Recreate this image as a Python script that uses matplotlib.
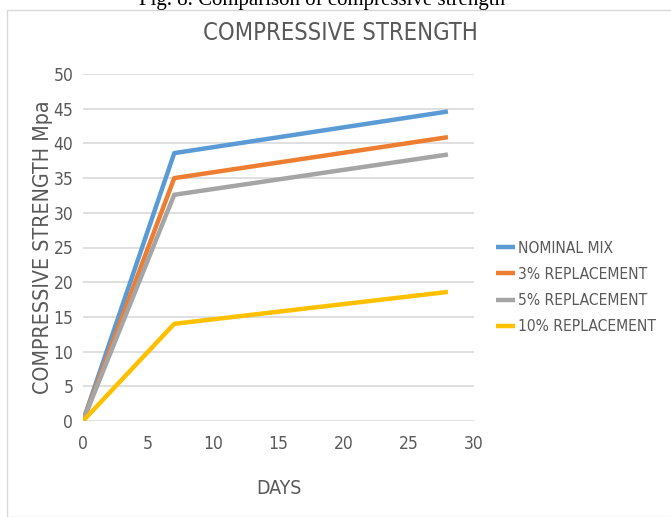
import matplotlib.pyplot as plt
from matplotlib.patches import Rectangle

# Curing age (days) and compressive strength (MPa) per mix
days = [0, 7, 28]
nominalMix = [0, 38.6, 44.6]
replace3 = [0, 35.0, 40.9]
replace5 = [0, 32.6, 38.4]
replace10 = [0, 14.0, 18.6]

seriesNames = ['NOMINAL MIX', '3% REPLACEMENT', '5% REPLACEMENT', '10% REPLACEMENT']
seriesColors = ['#5b9bd5', '#ed7d31', '#a5a5a5', '#ffc000']

textGray = '#595959'
font = {'family': ['DejaVu Sans'], 'stretch': 'condensed', 'weight': 'normal'}
plt.rcParams['font.family'] = ['DejaVu Sans']
plt.rcParams['font.stretch'] = 'condensed'

fig = plt.figure(figsize=(6.71, 5.17), dpi=100)

# Chart frame and the cut-off figure caption above it
fig.patches.append(Rectangle((7 / 671, 0), 1, 1 - 10 / 517, transform=fig.transFigure,
                             fill=False, edgecolor='#d9d9d9', linewidth=1))
fig.text(0.48, 1.0, 'Fig. 8. Comparison of compressive strength', ha='center', va='center',
         fontsize=15, family='Liberation Serif', stretch='normal', color='black')

ax = fig.add_axes([83 / 671, 1 - 421 / 517, (474 - 83) / 671, (421 - 74) / 517])

allSeries = [nominalMix, replace3, replace5, replace10]
for vals, name, col in zip(allSeries, seriesNames, seriesColors):
    ax.plot(days, vals, color=col, linewidth=3.2, label=name, solid_capstyle='butt')

ax.set_xlim(0, 30)
ax.set_ylim(0, 50)
ax.set_xticks(range(0, 31, 5))
ax.set_yticks(range(0, 51, 5))
ax.grid(axis='y', color='#d9d9d9', linewidth=1.2)
ax.set_axisbelow(True)
for side in ['top', 'right', 'left', 'bottom']:
    ax.spines[side].set_visible(False)
ax.tick_params(length=0, labelcolor=textGray)
ax.tick_params(axis='x', pad=10)
ax.tick_params(axis='y', pad=7)
for lbl in ax.get_xticklabels() + ax.get_yticklabels():
    lbl.set_fontsize(12.5)

ax.set_xlabel('DAYS', fontsize=14, color=textGray, labelpad=19, **font)
ax.set_ylabel('COMPRESSIVE STRENGTH Mpa', fontsize=15.3, color=textGray, labelpad=0, **font)
fig.text(340 / 671, 1 - 33 / 517, 'COMPRESSIVE STRENGTH', ha='center', va='center',
         fontsize=17, color=textGray, **font)

leg = ax.legend(loc='center left', bbox_to_anchor=(1.02, 0.385), frameon=False,
                handlelength=1.25, handletextpad=0.2, labelspacing=0.72,
                prop={'family': font['family'], 'stretch': 'condensed', 'weight': 'normal', 'size': 11.2})
for txt in leg.get_texts():
    txt.set_color(textGray)

plt.savefig('out.png', dpi=100)
